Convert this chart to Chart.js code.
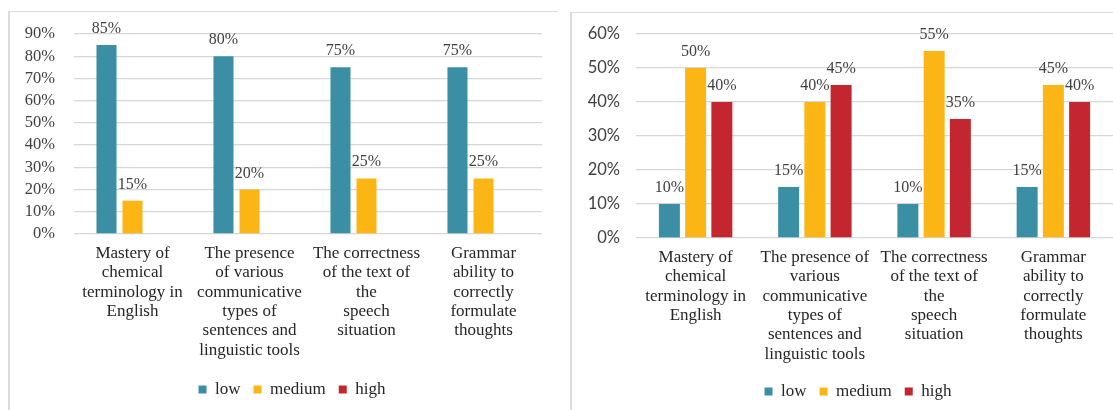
<!DOCTYPE html>
<html><head><meta charset="utf-8">
<script src="https://cdn.jsdelivr.net/npm/chart.js@4.4.0/dist/chart.umd.min.js"></script>
<style>
html,body{margin:0;padding:0;background:#fff;width:1113px;height:410px;overflow:hidden;position:relative;}
.panel{position:absolute;overflow:hidden;background:#fff;}
.panel canvas{position:absolute;left:0;top:0;}
.ln{position:absolute;background:#dadada;}
</style></head><body>
<div class="panel" style="left:9px;top:11px;width:549px;height:399px;"><canvas id="c1" width="566" height="399" style="width:566px;height:399px;"></canvas></div>
<div class="panel" style="left:571px;top:12px;width:542px;height:398px;"><canvas id="c2" width="574" height="398" style="width:574px;height:398px;"></canvas></div>
<div class="ln" style="left:9px;top:11px;width:549px;height:1px;"></div>
<div class="ln" style="left:8px;top:11px;width:2px;height:399px;"></div>
<div class="ln" style="left:571px;top:12px;width:542px;height:1px;"></div>
<div class="ln" style="left:570px;top:12px;width:2px;height:398px;"></div>
<script>
// ---- data ----
const seriesNames = ["low", "medium", "high"];
const categoriesLeft = [
  ["Mastery of", "chemical", "terminology in", "English"],
  ["The presence", "of various", "communicative", "types of", "sentences and", "linguistic tools"],
  ["The correctness", "of the text of", "the", "speech", "situation"],
  ["Grammar", "ability to", "correctly", "formulate", "thoughts"]
];
const categoriesRight = [
  ["Mastery of", "chemical", "terminology in", "English"],
  ["The presence of", "various", "communicative", "types of", "sentences and", "linguistic tools"],
  ["The correctness", "of the text of", "the", "speech", "situation"],
  ["Grammar", "ability to", "correctly", "formulate", "thoughts"]
];
const lowLeft = [85, 80, 75, 75];
const mediumLeft = [15, 20, 25, 25];
const highLeft = [null, null, null, null];
const lowRight = [10, 15, 10, 15];
const mediumRight = [50, 40, 55, 45];
const highRight = [40, 45, 35, 40];
const yMaxLeft = 90;
const yMaxRight = 60;
const yStep = 10;

const colors = ["#3a8fa5", "#fbb615", "#c3262e"];
const SERIF = "Liberation Serif";
Chart.defaults.font.family = SERIF;

const valueLabels = {
  id: 'valueLabels',
  afterDatasetsDraw(chart, args, opts) {
    const ctx = chart.ctx;
    ctx.save();
    ctx.font = opts.font;
    ctx.fillStyle = opts.color;
    ctx.textAlign = 'center';
    ctx.textBaseline = 'alphabetic';
    chart.data.datasets.forEach((ds, i) => {
      const meta = chart.getDatasetMeta(i);
      meta.data.forEach((bar, j) => {
        const v = ds.data[j];
        if (v == null) return;
        ctx.fillText(v + '%', bar.x, bar.y - opts.offset);
      });
    });
    ctx.restore();
  }
};

function makeChart(id, cats, low, med, high, yMax, cfg) {
  const vals = [low, med, high];
  return new Chart(document.getElementById(id), {
    type: 'bar',
    data: {
      labels: cats,
      datasets: seriesNames.map((n, i) => ({
        label: n, data: vals[i], backgroundColor: colors[i], borderWidth: 0,
        categoryPercentage: cfg.catPct, barPercentage: cfg.barPct
      }))
    },
    options: {
      responsive: false, animation: false, devicePixelRatio: 1,
      layout: { padding: { left: 0, right: 0, top: cfg.padTop, bottom: cfg.padBottom } },
      plugins: {
        legend: {
          position: 'bottom',
          labels: { boxWidth: 8, boxHeight: 8, padding: 13, color: '#262626', font: { family: SERIF, size: 17 } }
        },
        tooltip: { enabled: false },
        valueLabels: { font: "16px 'Liberation Serif'", color: '#404040', offset: 12 }
      },
      scales: {
        x: {
          grid: { display: false, drawTicks: false },
          border: { display: false },
          ticks: { color: '#262626', padding: 10, maxRotation: 0, autoSkip: false, font: { family: SERIF, size: 17, lineHeight: 1.135 } },
          afterFit: (s) => { s.height = cfg.xHeight; }
        },
        y: {
          min: 0, max: yMax,
          grid: { color: '#d6d6d6', lineWidth: 1.3, drawTicks: false },
          border: { display: false },
          ticks: { stepSize: yStep, autoSkip: false, padding: cfg.yPad, color: '#404040', font: cfg.yFont, callback: v => v + '%' },
          afterFit: (s) => { s.width = 65; s.paddingTop = 0; s.paddingBottom = 0; }
        },
        yRightSpace: {
          position: 'right', display: true,
          grid: { display: false, drawTicks: false },
          border: { display: false },
          ticks: { display: false },
          afterFit: (s) => { s.width = cfg.padRight; s.paddingTop = 0; s.paddingBottom = 0; }
        }
      }
    },
    plugins: [valueLabels]
  });
}

makeChart('c1', categoriesLeft, lowLeft, mediumLeft, highLeft, yMaxLeft, {
  catPct: 0.667, barPct: 0.77, padRight: 33, padTop: 23, padBottom: 2, xHeight: 134, yPad: 19,
  yFont: { family: SERIF, size: 16.5 }
});
makeChart('c2', categoriesRight, lowRight, mediumRight, highRight, yMaxRight, {
  catPct: 0.66, barPct: 0.8, padRight: 32, padTop: 22, padBottom: 0, xHeight: 132, yPad: 16,
  yFont: { family: "Lato", size: 16.5 }
});
</script>
</body></html>
